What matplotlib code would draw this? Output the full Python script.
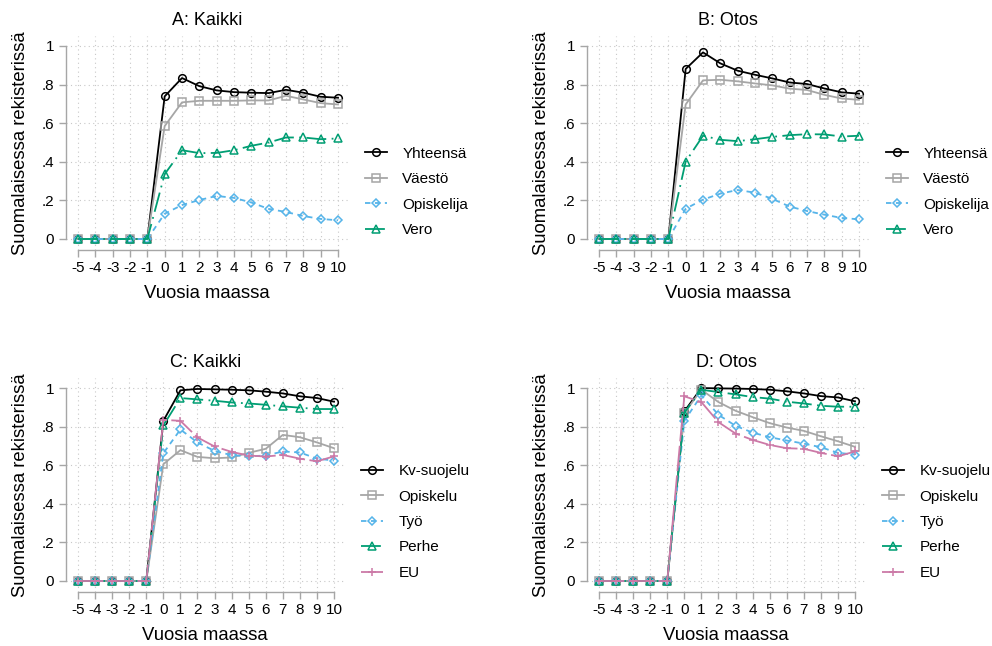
import matplotlib
matplotlib.use('Agg')
import matplotlib.pyplot as plt
import numpy as np

plt.rcParams['font.family'] = ['Liberation Sans', 'DejaVu Sans']
plt.rcParams['axes.unicode_minus'] = False

# --- DATA ---
years = list(range(-5, 11))
zeros = [0, 0, 0, 0, 0]

# A: Kaikki
a_yht = zeros + [0.739, 0.834, 0.792, 0.770, 0.761, 0.758, 0.756, 0.773, 0.758, 0.737, 0.732]
a_vae = zeros + [0.585, 0.708, 0.716, 0.716, 0.716, 0.718, 0.718, 0.742, 0.723, 0.704, 0.697]
a_opi = zeros + [0.131, 0.176, 0.202, 0.223, 0.213, 0.189, 0.156, 0.140, 0.119, 0.104, 0.097]
a_ver = zeros + [0.336, 0.460, 0.445, 0.446, 0.460, 0.483, 0.500, 0.526, 0.526, 0.517, 0.521]

# B: Otos
b_yht = zeros + [0.881, 0.967, 0.910, 0.872, 0.851, 0.832, 0.811, 0.803, 0.780, 0.760, 0.753]
b_vae = zeros + [0.697, 0.822, 0.825, 0.817, 0.806, 0.796, 0.779, 0.772, 0.747, 0.728, 0.721]
b_opi = zeros + [0.157, 0.204, 0.235, 0.254, 0.240, 0.208, 0.168, 0.145, 0.126, 0.109, 0.102]
b_ver = zeros + [0.401, 0.535, 0.514, 0.507, 0.517, 0.529, 0.538, 0.543, 0.542, 0.531, 0.535]

# C: Kaikki (oleskeluperuste)
c_kv = zeros + [0.830, 0.988, 0.995, 0.993, 0.991, 0.988, 0.981, 0.972, 0.957, 0.948, 0.929]
c_opi = zeros + [0.605, 0.678, 0.643, 0.636, 0.640, 0.664, 0.685, 0.757, 0.745, 0.718, 0.688]
c_tyo = zeros + [0.662, 0.785, 0.718, 0.674, 0.652, 0.646, 0.650, 0.671, 0.666, 0.634, 0.624]
c_per = zeros + [0.806, 0.948, 0.941, 0.934, 0.925, 0.920, 0.913, 0.905, 0.898, 0.891, 0.891]
c_eu = zeros + [0.835, 0.830, 0.744, 0.697, 0.669, 0.650, 0.645, 0.653, 0.634, 0.620, 0.646]

# D: Otos (oleskeluperuste)
d_kv = zeros + [0.879, 1.000, 0.998, 0.997, 0.995, 0.991, 0.983, 0.972, 0.958, 0.951, 0.931]
d_opi = zeros + [0.870, 0.991, 0.927, 0.882, 0.849, 0.818, 0.795, 0.778, 0.750, 0.724, 0.695]
d_tyo = zeros + [0.830, 0.962, 0.861, 0.804, 0.769, 0.745, 0.728, 0.712, 0.693, 0.664, 0.655]
d_per = zeros + [0.872, 0.991, 0.979, 0.967, 0.953, 0.945, 0.929, 0.920, 0.908, 0.903, 0.903]
d_eu = zeros + [0.957, 0.927, 0.823, 0.764, 0.731, 0.705, 0.688, 0.685, 0.664, 0.646, 0.671]

labels_ab = ['Yhteensä', 'Väestö', 'Opiskelija', 'Vero']
labels_cd = ['Kv-suojelu', 'Opiskelu', 'Työ', 'Perhe', 'EU']
yticks = [0, 0.2, 0.4, 0.6, 0.8, 1]
ytick_labels = ['0', '.2', '.4', '.6', '.8', '1']

# --- TYYLIT ---
styles = [
    dict(color='black', marker='o', ls='-'),
    dict(color='#a6a6a6', marker='s', ls='-'),
    dict(color='#56b4e9', marker='D', ls=(0, (3, 2.5)), ms=4.5),
    dict(color='#009e73', marker='^', ls=(0, (11, 3, 1, 3))),
    dict(color='#cc79a7', marker='+', ls=(0, (14, 2.5))),
]

W, H = 992, 646
XMIN, XMAX = -5.7, 10.6
YMIN, YMAX = -0.058, 1.05


def make_ax(fig, px_a, px_b, py0, py1):
    # px_a = x=-5 pikselinä, px_b = x=10, py0 = y=0, py1 = y=1
    ux = (px_b - px_a) / 15
    uy = py0 - py1
    left = px_a + (XMIN + 5) * ux
    right = px_b + (XMAX - 10) * ux
    bottom = py0 - YMIN * uy
    top = py1 - (YMAX - 1) * uy
    return fig.add_axes([left / W, 1 - bottom / H, (right - left) / W, (bottom - top) / H])


def draw_panel(ax, series, labels, title, leg_x, leg_y):
    for s, lab, st in zip(series, labels, styles):
        ax.plot(years, s, color=st['color'], marker=st['marker'], linestyle=st['ls'],
                lw=1.3, ms=st.get('ms', 5.5), mfc='none', mew=1.1, label=lab)
    ax.set_xlim(XMIN, XMAX)
    ax.set_ylim(YMIN, YMAX)
    ax.set_xticks(years)
    ax.set_yticks(yticks)
    ax.set_yticklabels(ytick_labels)
    ax.spines['top'].set_visible(False)
    ax.spines['right'].set_visible(False)
    for sp in ['left', 'bottom']:
        ax.spines[sp].set_color('#a6a6a6')
        ax.spines[sp].set_linewidth(1.0)
    ax.spines['left'].set_bounds(0, 1)
    ax.spines['bottom'].set_bounds(-5, 10)
    ax.tick_params(axis='both', colors='#a6a6a6', labelcolor='black', labelsize=11,
                   length=5, width=1.0, direction='out')
    ax.tick_params(axis='x', pad=3)
    ax.grid(True, color='#c8c8c8', linestyle=(0, (1, 3)), linewidth=0.8)
    ax.set_axisbelow(True)
    ax.set_title(title, fontsize=13, pad=8)
    ax.set_xlabel('Vuosia maassa', fontsize=13.3, labelpad=7)
    ax.set_ylabel('Suomalaisessa rekisterissä', fontsize=13.3, labelpad=9)
    ax.legend(loc='center left', bbox_to_anchor=(leg_x / W, 1 - leg_y / H),
              bbox_transform=fig.transFigure, frameon=False, fontsize=11,
              handlelength=1.45, handletextpad=1.0, labelspacing=0.75,
              borderaxespad=0, borderpad=0)


fig = plt.figure(figsize=(9.92, 6.46), dpi=100)

ax_a = make_ax(fig, 78, 338, 239, 46)
draw_panel(ax_a, [a_yht, a_vae, a_opi, a_ver], labels_ab, 'A: Kaikki', 365, 192)

ax_b = make_ax(fig, 599, 859, 239, 46)
draw_panel(ax_b, [b_yht, b_vae, b_opi, b_ver], labels_ab, 'B: Otos', 886, 192)

ax_c = make_ax(fig, 78, 334, 581, 388)
draw_panel(ax_c, [c_kv, c_opi, c_tyo, c_per, c_eu], labels_cd, 'C: Kaikki', 361, 522)

ax_d = make_ax(fig, 599, 855, 581, 388)
draw_panel(ax_d, [d_kv, d_opi, d_tyo, d_per, d_eu], labels_cd, 'D: Otos', 882, 522)

fig.savefig('out.png', dpi=100, facecolor='white')
